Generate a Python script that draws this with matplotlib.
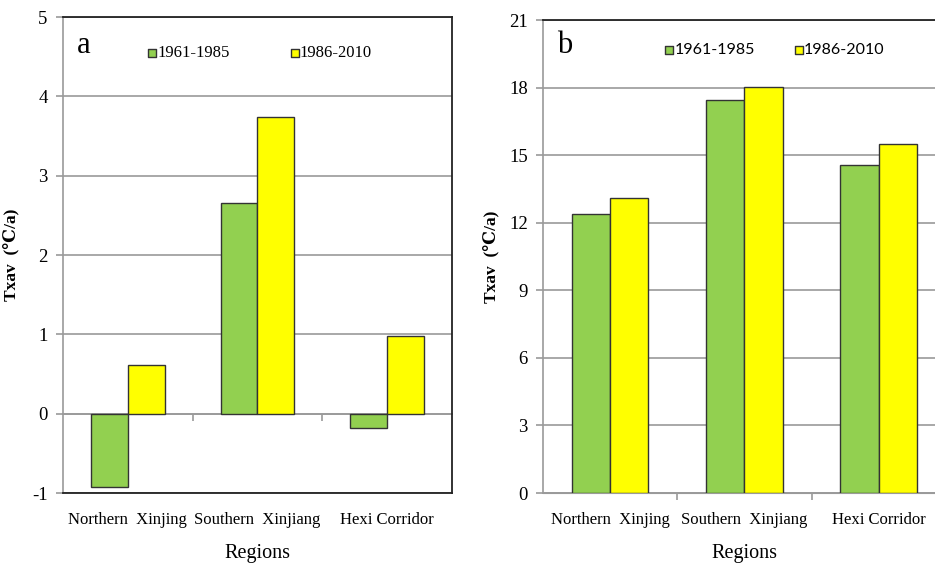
import numpy as np
import matplotlib.pyplot as plt

regions = ['Northern  Xinjing', 'Southern  Xinjiang', 'Hexi Corridor']
periods = ['1961-1985', '1986-2010']
# panel a
txav_a_early = [-0.92, 2.65, -0.18]
txav_a_late = [0.61, 3.74, 0.98]
# panel b
txav_b_early = [12.4, 17.45, 14.55]
txav_b_late = [13.1, 18.05, 15.48]

green = '#92D050'
yellow = '#FFFF00'
grid_c = '#9a9a9a'
serif = ['Liberation Serif', 'DejaVu Serif']
sans = ['Lato', 'DejaVu Sans']

fig = plt.figure(figsize=(9.35, 5.67), dpi=100)
ax_a = fig.add_axes([0.0674, 0.1305, 0.416, 0.8395])
ax_b = fig.add_axes([0.5807, 0.1305, 0.431, 0.834])


def draw_panel(ax, early, late, ylim, yticks, letter, letter_pos, leg_x, leg_y, leg_font,
               leg_size, ylab_x):
    x = np.arange(len(regions))
    w = 0.285
    ax.bar(x - w / 2, early, w, color=green, edgecolor='#333333', linewidth=1, zorder=3)
    ax.bar(x + w / 2, late, w, color=yellow, edgecolor='#333333', linewidth=1, zorder=3)
    ax.set_xlim(-0.5, 2.5)
    ax.set_ylim(*ylim)
    ax.set_yticks(yticks)
    ax.set_yticklabels([str(t) for t in yticks], family=serif, fontsize=13.5)
    ax.yaxis.grid(True, color=grid_c, linewidth=1.2, zorder=0)
    ax.tick_params(axis='y', direction='out', length=5, color=grid_c, width=1.2, pad=6)
    ax.set_xticks(x)
    ax.set_xticklabels(regions, family=serif, fontsize=12)
    ax.tick_params(axis='x', length=0, pad=14)
    ax.spines['left'].set_color(grid_c)
    ax.spines['left'].set_linewidth(1.2)
    for s in ['top', 'right']:
        ax.spines[s].set_color('#222222')
        ax.spines[s].set_linewidth(1.3)
    ax.set_xlabel('Regions', family=serif, fontsize=14.5, labelpad=11)
    ax.set_ylabel('Txav  (\u2103/a)', family=serif, fontsize=12.5, fontweight='bold')
    ax.yaxis.set_label_coords(ylab_x, 0.5)
    ax.text(letter_pos[0], letter_pos[1], letter, transform=ax.transAxes, family=serif,
            fontsize=22, va='baseline', ha='left')
    # legend
    for i, (lab, c) in enumerate(zip(periods, [green, yellow])):
        lx = leg_x[i]
        ax.scatter([lx], [leg_y], marker='s', s=30, color=c, edgecolor='#333333',
                   linewidth=1, transform=ax.transAxes, zorder=5, clip_on=False)
        ax.text(lx + 0.013, leg_y, lab, transform=ax.transAxes, family=leg_font,
                fontsize=leg_size, va='center', ha='left')
    # category boundary ticks on the zero line
    sec = ax.secondary_xaxis((0 - ylim[0]) / (ylim[1] - ylim[0]))
    sec.set_xticks([0.5, 1.5])
    sec.set_xticklabels(['', ''])
    sec.tick_params(direction='out', length=5, color=grid_c, width=1.2)
    sec.spines['bottom'].set_color(grid_c)
    sec.spines['bottom'].set_linewidth(1.2)


draw_panel(ax_a, txav_a_early, txav_a_late, (-1, 5), [-1, 0, 1, 2, 3, 4, 5], 'a',
           (0.036, 0.924), [0.229, 0.596], 0.924, serif, 12, -0.112)
ax_a.spines['bottom'].set_color('#222222')
ax_a.spines['bottom'].set_linewidth(1.3)

draw_panel(ax_b, txav_b_early, txav_b_late, (0, 21), [0, 3, 6, 9, 12, 15, 18, 21], 'b',
           (0.035, 0.930), [0.313, 0.635], 0.937, sans, 11.5, -0.108)
ax_b.spines['bottom'].set_color(grid_c)

fig.savefig('out.png', dpi=100)
